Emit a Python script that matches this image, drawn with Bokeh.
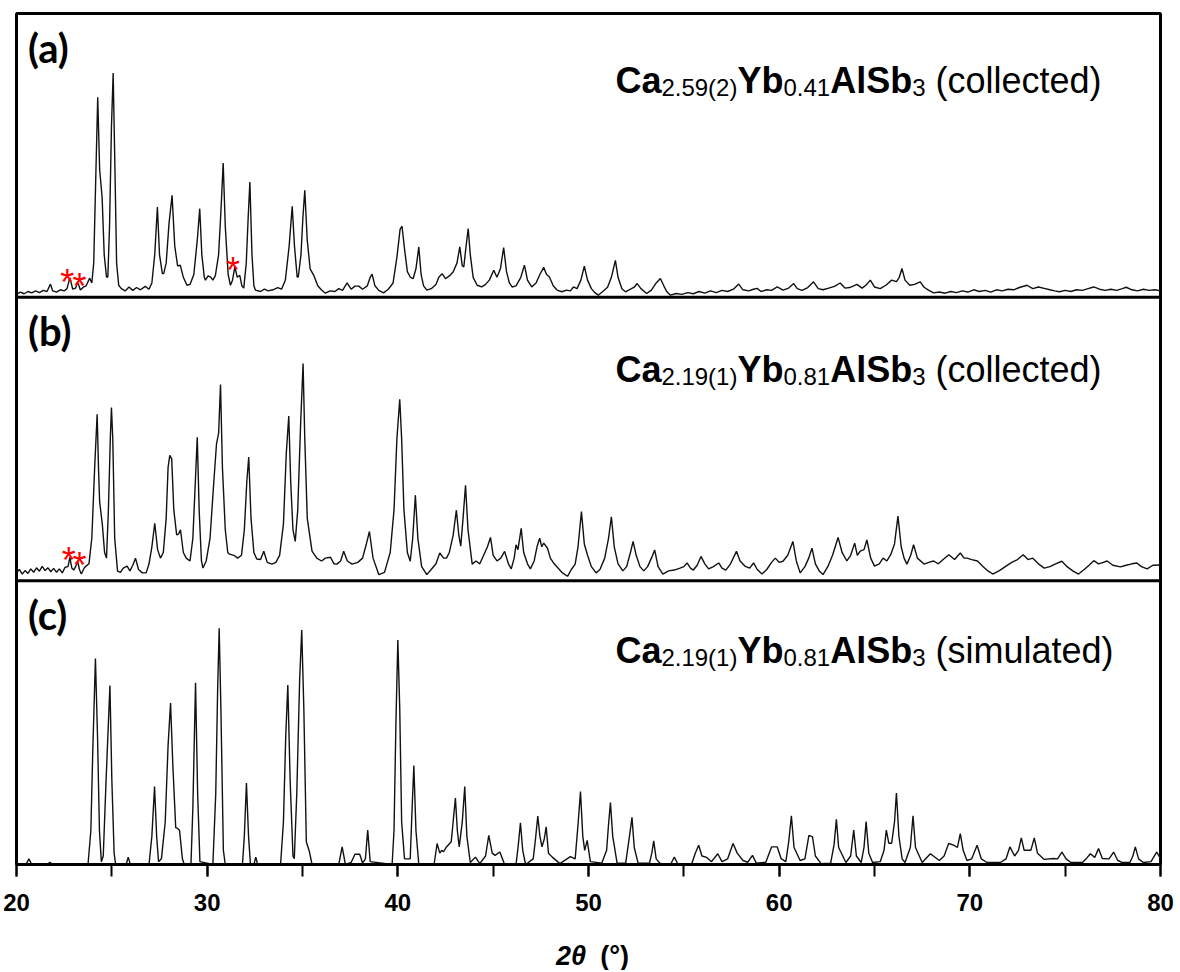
from bokeh.plotting import figure
from bokeh.models import Span, SingleIntervalTicker, Range1d
from bokeh.layouts import column
from bokeh.core.properties import value
from bokeh.embed import file_html
from bokeh.resources import INLINE

# ---------------- data (2-theta in degrees, intensity in % of panel height) ----------------
PATTERN_A = [
    (20.0, 1.0), (20.2, 1.8), (20.4, 1.2), (20.6, 2.0), (20.8, 1.5), (21.0, 2.2), (21.2, 1.6), (21.4, 2.4),
    (21.6, 2.0), (21.78, 4.6), (21.9, 2.2), (22.1, 1.8), (22.3, 2.6), (22.5, 2.2), (22.65, 3.0), (22.8, 6.9),
    (22.95, 2.8), (23.1, 3.2), (23.21, 5.4), (23.35, 2.5), (23.5, 3.5), (23.65, 4.0), (23.84, 6.7), (23.95, 5.0),
    (24.05, 12), (24.15, 40), (24.26, 70.5), (24.36, 45), (24.49, 35.3), (24.6, 15), (24.72, 7.1), (24.79, 7.1),
    (24.88, 25), (24.98, 60), (25.07, 79.0), (25.15, 50), (25.25, 12), (25.36, 4.2), (25.5, 3.0), (25.7, 2.2),
    (25.9, 3.6), (26.1, 2.4), (26.3, 3.4), (26.5, 2.6), (26.75, 3.8), (26.95, 2.8), (27.1, 5), (27.25, 15),
    (27.39, 31.8), (27.5, 15), (27.65, 8.3), (27.72, 8.3), (27.85, 12), (28.0, 26), (28.16, 35.9), (28.3, 18),
    (28.45, 11), (28.59, 11.3), (28.75, 7), (28.94, 4.2), (29.1, 4.5), (29.3, 8), (29.48, 20), (29.61, 31.2),
    (29.72, 15), (29.85, 7), (29.91, 6.0), (30.05, 7.5), (30.19, 7.1), (30.3, 6.0), (30.43, 7.6), (30.6, 15),
    (30.72, 30), (30.84, 47.3), (30.95, 25), (31.1, 8), (31.22, 4.2), (31.33, 6), (31.45, 10.7), (31.58, 7),
    (31.71, 7.7), (31.82, 4), (31.92, 3.2), (32.05, 12), (32.15, 28), (32.24, 40.6), (32.35, 15), (32.45, 4),
    (32.53, 2.5), (32.8, 2.0), (33.0, 2.8), (33.2, 2.2), (33.45, 2.6), (33.7, 3.4), (33.9, 2.8), (34.1, 6),
    (34.3, 18), (34.46, 32.0), (34.58, 18), (34.72, 7.1), (34.78, 7.1), (34.92, 15), (35.02, 28), (35.12, 37.7),
    (35.25, 20), (35.4, 10), (35.59, 7.7), (35.8, 4), (36.0, 2.5), (36.2, 1.4), (36.45, 2.2), (36.7, 2.0),
    (36.9, 3.0), (37.1, 2.4), (37.34, 5.0), (37.55, 2.8), (37.75, 3.9), (37.95, 3.9), (38.15, 2.8), (38.4, 4),
    (38.55, 7), (38.65, 8.1), (38.8, 4), (39.0, 2.4), (39.25, 1.5), (39.5, 2.8), (39.75, 5), (39.95, 14),
    (40.12, 24), (40.22, 25.0), (40.35, 17), (40.5, 9), (40.65, 7.1), (40.8, 6.5), (40.95, 10), (41.1, 17.7),
    (41.22, 8), (41.35, 4), (41.52, 2.5), (41.75, 3), (42.0, 4.5), (42.15, 7), (42.32, 8.3), (42.5, 6.5),
    (42.7, 7.5), (42.9, 8.9), (43.1, 12), (43.25, 17.7), (43.38, 11), (43.46, 10.7), (43.58, 18), (43.69, 24.2),
    (43.8, 15), (43.95, 7), (44.16, 4.2), (44.4, 3.6), (44.6, 4.5), (44.8, 6), (45.03, 9.5), (45.2, 7),
    (45.38, 10), (45.55, 17.5), (45.7, 9), (45.85, 5), (45.99, 3.6), (46.2, 4), (46.45, 7), (46.64, 11.3),
    (46.8, 6), (47.02, 3.6), (47.25, 5), (47.45, 8), (47.65, 10.5), (47.8, 8), (47.95, 7.1), (48.15, 4),
    (48.35, 2.5), (48.6, 1.9), (48.85, 2.5), (49.05, 2.2), (49.21, 3.6), (49.4, 3), (49.6, 6), (49.78, 10.9),
    (49.95, 6), (50.15, 3), (50.35, 1.5), (50.51, 0.7), (50.75, 2), (51.0, 3.5), (51.2, 7), (51.41, 13.0),
    (51.55, 7), (51.75, 3), (51.94, 1.9), (52.2, 2.8), (52.4, 3.5), (52.55, 4.8), (52.75, 3), (53.05, 1.3),
    (53.3, 2.5), (53.55, 5), (53.77, 6.6), (53.95, 4), (54.1, 2), (54.3, 0.7), (54.6, 1.3), (54.9, 1.0),
    (55.2, 1.6), (55.5, 1.2), (55.8, 2.0), (56.1, 1.4), (56.4, 2.2), (56.7, 1.6), (57.0, 2.4), (57.3, 2.0),
    (57.6, 2.8), (57.88, 4.6), (58.1, 2.6), (58.4, 2.2), (58.65, 2.8), (58.84, 3.1), (59.05, 2.0), (59.35, 2.6),
    (59.6, 2.4), (59.9, 3.6), (60.2, 2.5), (60.5, 3.2), (60.76, 4.8), (60.95, 3.0), (61.2, 2.4), (61.5, 3.4),
    (61.8, 5.4), (62.05, 3), (62.3, 2.6), (62.6, 3.2), (62.9, 3.8), (63.2, 5.0), (63.45, 3.2), (63.7, 3.4),
    (64.08, 4.5), (64.35, 3.2), (64.55, 4.2), (64.78, 6.0), (65.0, 3.6), (65.3, 3.0), (65.6, 4.2), (65.9, 6.0),
    (66.15, 5.5), (66.3, 7), (66.44, 10.1), (66.6, 6), (66.85, 4.2), (67.1, 4.5), (67.4, 5.4), (67.6, 3.5),
    (67.85, 2.4), (68.1, 1.5), (68.4, 1.8), (68.7, 1.4), (69.0, 2.0), (69.3, 1.6), (69.6, 2.2), (69.9, 1.8),
    (70.2, 2.6), (70.5, 2.0), (70.8, 2.4), (71.1, 1.8), (71.4, 2.6), (71.7, 2.2), (72.0, 2.8), (72.3, 2.6),
    (72.6, 3.4), (73.0, 4.2), (73.3, 3.0), (73.6, 3.6), (73.9, 3.1), (74.2, 2.6), (74.45, 2.2), (74.7, 1.9),
    (75.0, 2.4), (75.3, 2.0), (75.6, 2.6), (75.9, 2.4), (76.2, 3.0), (76.5, 3.6), (76.8, 2.8), (77.1, 2.4),
    (77.4, 2.8), (77.7, 2.4), (78.0, 3.0), (78.2, 3.5), (78.5, 2.6), (78.8, 2.2), (79.1, 2.8), (79.4, 2.4),
    (79.7, 2.6), (80.0, 2.2),
]

PATTERN_B = [
    (20.0, 2.8), (20.15, 4.0), (20.3, 2.4), (20.45, 3.6), (20.6, 2.6), (20.75, 4.2), (20.9, 3.0), (21.05, 4.6),
    (21.2, 3.4), (21.35, 5.1), (21.5, 3.6), (21.65, 4.6), (21.8, 3.2), (21.95, 4.4), (22.1, 3.0), (22.25, 4.2),
    (22.4, 2.8), (22.55, 4.8), (22.7, 5.0), (22.8, 8.3), (22.9, 4.5), (23.0, 3.8), (23.1, 5.0), (23.21, 6.9),
    (23.3, 4), (23.4, 2.4), (23.55, 4.5), (23.65, 5.2), (23.8, 6), (23.95, 15), (24.1, 40), (24.23, 58.7),
    (24.3, 40), (24.36, 27.9), (24.5, 20), (24.62, 10), (24.72, 8.0), (24.82, 25), (24.92, 50), (24.98, 61.1),
    (25.05, 50), (25.15, 15), (25.3, 3.4), (25.45, 3.0), (25.6, 4.5), (25.8, 5.2), (25.95, 3.5), (26.1, 5.5),
    (26.24, 8.0), (26.4, 4.0), (26.6, 2.8), (26.8, 2.8), (26.95, 6), (27.1, 12), (27.25, 20.3), (27.4, 11),
    (27.55, 8.0), (27.7, 10), (27.85, 22), (27.95, 40), (28.04, 44.2), (28.14, 43), (28.25, 25), (28.4, 16.2),
    (28.5, 16.5), (28.6, 18.0), (28.75, 10), (28.9, 8.0), (29.1, 7), (29.25, 15), (29.38, 35), (29.48, 50.6),
    (29.58, 25), (29.7, 7), (29.78, 4.5), (29.95, 7), (30.15, 15), (30.35, 35), (30.49, 48.3), (30.6, 52),
    (30.7, 69.2), (30.8, 40), (30.95, 18), (31.08, 10), (31.17, 9.4), (31.4, 9), (31.6, 8.0), (31.8, 9),
    (31.95, 18), (32.08, 35), (32.18, 43.6), (32.3, 22), (32.45, 10), (32.6, 7.7), (32.8, 7.5), (32.97, 10.4),
    (33.15, 6.5), (33.4, 5.9), (33.6, 6.5), (33.8, 9), (34.0, 20), (34.15, 45), (34.28, 58.1), (34.38, 35),
    (34.5, 18), (34.62, 13.9), (34.75, 25), (34.9, 55), (35.03, 76.6), (35.12, 50), (35.25, 22), (35.5, 10.5),
    (35.75, 8), (36.0, 7.0), (36.2, 8), (36.47, 8.3), (36.65, 6), (36.8, 5.9), (37.0, 7), (37.16, 10.4),
    (37.35, 7), (37.6, 5.9), (37.9, 6.5), (38.15, 8), (38.35, 13), (38.51, 17.4), (38.7, 8), (39.0, 2.2),
    (39.3, 3), (39.6, 10), (39.8, 25), (39.95, 50), (40.1, 64.0), (40.2, 50), (40.32, 25), (40.5, 10),
    (40.65, 6.9), (40.78, 15), (40.92, 30.2), (41.05, 15), (41.25, 5), (41.52, 2.2), (41.75, 4), (42.0, 6),
    (42.2, 9.8), (42.4, 8), (42.55, 8.0), (42.7, 10), (42.9, 16), (43.07, 24.9), (43.2, 16), (43.3, 12.2),
    (43.42, 22), (43.55, 33.7), (43.68, 18), (43.9, 5.9), (44.1, 7.0), (44.3, 6), (44.5, 9), (44.7, 12),
    (44.86, 15.3), (45.0, 9), (45.2, 7.0), (45.4, 8), (45.6, 10.4), (45.8, 6), (45.95, 4.2), (46.1, 8),
    (46.2, 12.7), (46.3, 11), (46.47, 18.5), (46.6, 10), (46.8, 6), (46.95, 4.2), (47.15, 7), (47.3, 12),
    (47.44, 15.0), (47.55, 12), (47.65, 13.3), (47.85, 11.5), (48.0, 8), (48.2, 6), (48.4, 4.5), (48.6, 3),
    (48.9, 1.6), (49.1, 4), (49.3, 5.9), (49.45, 12), (49.63, 24.4), (49.78, 13), (49.95, 9), (50.15, 5),
    (50.4, 2.8), (50.6, 4), (50.85, 8), (51.05, 15), (51.2, 22.6), (51.35, 12), (51.55, 6), (51.8, 3.5),
    (52.0, 5), (52.2, 10), (52.34, 13.9), (52.5, 9), (52.7, 5), (52.9, 3.5), (53.1, 5), (53.3, 8),
    (53.47, 10.9), (53.65, 5), (53.9, 2.4), (54.2, 3.5), (54.5, 3.8), (54.8, 4.5), (55.0, 5), (55.17, 6.3),
    (55.35, 4.5), (55.5, 3.8), (55.7, 5.5), (55.9, 8.6), (56.1, 6), (56.3, 4.2), (56.55, 5), (56.83, 6.3),
    (57.0, 4.5), (57.2, 3.8), (57.45, 6), (57.76, 10.4), (57.95, 7), (58.2, 5.2), (58.45, 4.5), (58.66, 6.3),
    (58.85, 4), (59.1, 2.4), (59.35, 4), (59.6, 6.5), (59.8, 8.0), (60.0, 6.5), (60.2, 6.9), (60.45, 9),
    (60.72, 13.9), (60.9, 7), (61.1, 2.8), (61.35, 5), (61.55, 8), (61.72, 11.5), (61.9, 6), (62.1, 3.5),
    (62.3, 2.2), (62.55, 5), (62.8, 9), (63.09, 15.3), (63.3, 10), (63.55, 7.0), (63.75, 9), (63.96, 13.3),
    (64.1, 9), (64.25, 10.5), (64.45, 11), (64.6, 14.4), (64.8, 8), (65.0, 5.2), (65.25, 6), (65.45, 8.0),
    (65.65, 7), (65.85, 9.2), (66.05, 13), (66.23, 22.8), (66.4, 12), (66.55, 8), (66.7, 5.9), (66.9, 9),
    (67.05, 12.7), (67.25, 8), (67.6, 5.9), (67.85, 6.5), (68.1, 7.0), (68.35, 6), (68.6, 7.5), (68.9, 9.2),
    (69.2, 7.5), (69.5, 9.8), (69.7, 8), (69.85, 8.0), (70.1, 7.5), (70.4, 7.0), (70.7, 5), (70.95, 3.5),
    (71.2, 2.4), (71.55, 3.6), (71.9, 5.2), (72.2, 6.5), (72.5, 7.5), (72.8, 9.2), (73.05, 7.5), (73.3, 8.0),
    (73.6, 6), (73.9, 4.5), (74.2, 5), (74.5, 6), (74.83, 6.9), (75.1, 5), (75.4, 3.5), (75.7, 2.4),
    (76.0, 4), (76.25, 5.5), (76.5, 7.1), (76.75, 6), (77.0, 6.5), (77.2, 7.0), (77.5, 5.5), (77.9, 4.9),
    (78.2, 5.5), (78.5, 6), (78.76, 6.3), (79.0, 5), (79.3, 4.2), (79.6, 5.5), (80.0, 5.6),
]

PATTERN_C = [
    (20.0, 0), (20.5, 0), (20.65, 2.0), (20.8, 0), (21.6, 0), (21.75, 0.8), (21.9, 0), (23.75, 0),
    (23.9, 12), (24.0, 40), (24.14, 72.6), (24.25, 45), (24.35, 12), (24.45, 1), (24.55, 3), (24.7, 30),
    (24.9, 63.1), (25.0, 30), (25.12, 4), (25.2, 0), (25.75, 0), (25.86, 2.6), (25.97, 0), (26.95, 0),
    (27.1, 10), (27.24, 27.5), (27.35, 10), (27.45, 1), (27.6, 2), (27.8, 15), (27.95, 42), (28.08, 56.9),
    (28.2, 35), (28.35, 13), (28.45, 12.7), (28.55, 12.1), (28.7, 2), (28.8, 0), (29.15, 0), (29.25, 20),
    (29.39, 64.1), (29.5, 25), (29.62, 1), (30.3, 0), (30.45, 25), (30.55, 62), (30.63, 83.3), (30.72, 55),
    (30.85, 5), (30.95, 0), (31.85, 0), (31.95, 10), (32.06, 28.7), (32.17, 10), (32.27, 0), (32.45, 0),
    (32.55, 2.6), (32.65, 0), (33.85, 0), (34.0, 15), (34.12, 45), (34.23, 63.3), (34.35, 30), (34.5, 3),
    (34.57, 2), (34.7, 25), (34.85, 65), (34.96, 82.7), (35.07, 55), (35.2, 8), (35.36, 4.6), (35.5, 0),
    (36.9, 0), (37.08, 6.2), (37.25, 0), (37.55, 0.7), (37.75, 3.6), (38.0, 3.6), (38.15, 0.5), (38.3, 2),
    (38.42, 12.1), (38.55, 1), (39.7, 0), (39.8, 12), (39.9, 50), (40.0, 79.1), (40.1, 55), (40.2, 15),
    (40.35, 2), (40.65, 2), (40.75, 20), (40.84, 34.9), (40.95, 12), (41.1, 0), (41.9, 0), (42.06, 7.4),
    (42.2, 4), (42.3, 5), (42.4, 4.5), (42.55, 6.2), (42.8, 8), (42.9, 15), (43.02, 23.4), (43.12, 12),
    (43.22, 6.2), (43.38, 15), (43.51, 27.5), (43.62, 10), (43.8, 0.7), (44.07, 2.6), (44.3, 0.3), (44.6, 3),
    (44.77, 10.3), (44.95, 4), (45.1, 3.2), (45.35, 4.4), (45.6, 0), (46.2, 0), (46.32, 7), (46.43, 14.7),
    (46.55, 5), (46.7, 0), (47.1, 2), (47.22, 9), (47.34, 17.1), (47.45, 10), (47.56, 6.2), (47.68, 9),
    (47.78, 13.3), (47.9, 4), (48.1, 2.6), (48.5, 0.3), (49.05, 2.8), (49.3, 2), (49.45, 14), (49.58, 25.7),
    (49.7, 10), (49.8, 5.0), (49.93, 8.5), (50.1, 1), (50.7, 0.5), (50.95, 5), (51.05, 14), (51.15, 21.8),
    (51.27, 10), (51.5, 0.5), (51.95, 0.5), (52.15, 10), (52.28, 16.6), (52.4, 6), (52.6, 0.5), (53.2, 0.5),
    (53.32, 4), (53.42, 8.3), (53.55, 2), (53.8, 0), (54.3, 0), (54.5, 2.6), (54.7, 0), (55.4, 0),
    (55.6, 4), (55.78, 6.8), (55.95, 3), (56.2, 2.5), (56.45, 1), (56.78, 3.8), (57.0, 1), (57.3, 2),
    (57.58, 7.4), (57.8, 4), (58.1, 1.4), (58.35, 0.8), (58.6, 3.2), (58.8, 0.5), (59.3, 0.8), (59.6, 6.2),
    (59.9, 6.2), (60.1, 2.1), (60.35, 1), (60.5, 8), (60.64, 17.2), (60.78, 6), (61.1, 1.4), (61.35, 2),
    (61.56, 10.3), (61.75, 9.7), (61.9, 3), (62.2, 0.3), (62.7, 0.5), (62.88, 7), (63.0, 15.9), (63.12, 6),
    (63.5, 0.7), (63.75, 3), (63.91, 12.1), (64.05, 3), (64.3, 0.7), (64.45, 6), (64.56, 15.1), (64.7, 4),
    (64.9, 0.7), (65.3, 1), (65.5, 5), (65.62, 12.1), (65.75, 7.5), (65.9, 7.5), (66.05, 15), (66.15, 25.2),
    (66.28, 10), (66.45, 2), (66.6, 0.7), (66.88, 6), (67.02, 17.2), (67.15, 6), (67.5, 0.7), (67.93, 3.8),
    (68.4, 1.4), (68.65, 3), (68.89, 7.4), (69.15, 6.8), (69.35, 6), (69.5, 10.9), (69.65, 5), (69.85, 1.4),
    (70.1, 2), (70.38, 6.8), (70.6, 2), (70.9, 0.7), (71.6, 0.7), (71.9, 2), (72.1, 6.2), (72.35, 3),
    (72.55, 5), (72.7, 9.4), (72.85, 5), (73.0, 5), (73.2, 5), (73.38, 9.4), (73.55, 4), (73.9, 1.8),
    (74.4, 2.1), (74.6, 2), (74.83, 4.4), (75.05, 2), (75.3, 0.7), (75.9, 0.7), (76.1, 2), (76.32, 3.8),
    (76.55, 2.5), (76.75, 5.6), (76.95, 2.1), (77.3, 2), (77.54, 4.4), (77.75, 1.5), (78.0, 0.7), (78.4, 0.8),
    (78.55, 3), (78.68, 6.2), (78.85, 2), (79.1, 0.7), (79.5, 1), (79.8, 4.4), (80.0, 2.1),
]

# impurity markers (red asterisks)
STARS_A_X = [22.66, 23.30, 31.36]
STARS_A_Y = [8.9, 7.7, 13.3]
STARS_B_X = [22.74, 23.30]
STARS_B_Y = [10.9, 9.2]

PANEL_LABELS = ["(a)", "(b)", "(c)"]
FORMULAS = [
    [("Ca", "m"), ("2.59(2)", "s"), ("Yb", "m"), ("0.41", "s"), ("AlSb", "m"), ("3", "s"), ("(collected)", "n")],
    [("Ca", "m"), ("2.19(1)", "s"), ("Yb", "m"), ("0.81", "s"), ("AlSb", "m"), ("3", "s"), ("(collected)", "n")],
    [("Ca", "m"), ("2.19(1)", "s"), ("Yb", "m"), ("0.81", "s"), ("AlSb", "m"), ("3", "s"), ("(simulated)", "n")],
]
AXIS_TITLE = ["2θ", "(°)"]

# ---------------- layout helpers ----------------
REG = {'0': 556, '1': 556, '2': 556, '3': 556, '4': 556, '5': 556, '6': 556, '7': 556, '8': 556, '9': 556,
       '.': 278, '(': 333, ')': 333, ' ': 278, 'c': 500, 'o': 556, 'l': 222, 'e': 556, 't': 278, 'd': 556,
       's': 500, 'i': 222, 'm': 833, 'u': 556, 'a': 556}
BOLD = {'C': 722, 'a': 556, 'Y': 667, 'b': 611, 'A': 722, 'l': 278, 'S': 667}
MAIN_SIZE, SUB_SIZE = 36, 24
GAP = 0.278 * MAIN_SIZE


def seg_width(s, kind):
    if kind == "m":
        return sum(BOLD[c] for c in s) * MAIN_SIZE / 1000.0
    if kind == "s":
        return sum(REG[c] for c in s) * SUB_SIZE / 1000.0
    return sum(REG[c] for c in s) * MAIN_SIZE / 1000.0


FONT = value("Liberation Sans")

p = figure(frame_width=1144, frame_height=851, min_border_left=16, min_border_right=20,
           min_border_top=13, min_border_bottom=60, x_range=Range1d(20, 80), y_range=Range1d(0, 3),
           output_backend="svg", toolbar_location=None, y_axis_location=None)
p.xgrid.visible = False
p.ygrid.visible = False
p.outline_line_color = "black"
p.outline_line_width = 3
p.background_fill_color = "white"
p.border_fill_color = "white"

ax = p.xaxis[0]
ax.ticker = SingleIntervalTicker(interval=10, num_minor_ticks=2)
ax.axis_line_width = 3
ax.axis_line_color = "black"
ax.major_tick_in = 0
ax.major_tick_out = 12
ax.minor_tick_in = 0
ax.minor_tick_out = 12
ax.major_tick_line_width = 2
ax.minor_tick_line_width = 2
ax.major_label_text_font = "Liberation Sans"
ax.major_label_text_font_style = "bold"
ax.major_label_text_font_size = "24px"
ax.major_label_text_color = "black"
ax.major_label_standoff = 17

patterns = [PATTERN_A, PATTERN_B, PATTERN_C]
offsets = [2, 1, 0]
for pat, off in zip(patterns, offsets):
    xs = [pt[0] for pt in pat]
    ys = [off + pt[1] / 100.0 for pt in pat]
    p.line(xs, ys, line_color="#111111", line_width=1.4)

for loc in (1, 2):
    p.add_layout(Span(location=loc, dimension="width", line_color="black", line_width=3))

# red asterisks
for sx, sy, off in ((STARS_A_X, STARS_A_Y, 2), (STARS_B_X, STARS_B_Y, 1)):
    p.text(x=sx, y=[off + v / 100.0 for v in sy], text=["*"] * len(sx), text_color="#ff0000",
           text_font=FONT, text_font_size="36px", text_align="center", text_baseline="middle", y_offset=11)

# panel labels
LABEL_X, LABEL_Y = 20.6, 88.0
for lab, off in zip(PANEL_LABELS, offsets):
    p.text(x=[LABEL_X], y=[off + LABEL_Y / 100.0], text=[lab], text_font=value("Lato"),
           text_font_style="bold", text_font_size="40px", text_align="left", text_baseline="middle",
           text_color="black")

# formula labels
FORMULA_X = 51.41
FORMULA_Y = [76.4, 74.5, 75.4]
for segs, off, fy in zip(FORMULAS, offsets, FORMULA_Y):
    cum = 0.0
    for s, kind in segs:
        if kind == "n":
            cum += GAP
        p.text(x=[FORMULA_X], y=[off + fy / 100.0], text=[s], x_offset=cum,
               y_offset=(7 if kind == "s" else 0), text_font=FONT,
               text_font_style=("bold" if kind == "m" else "normal"),
               text_font_size=("%dpx" % (SUB_SIZE if kind == "s" else MAIN_SIZE)),
               text_align="left", text_baseline="alphabetic", text_color="black")
        cum += seg_width(s, kind)

# x-axis title "2θ (°)" in a thin strip below the main figure
t = figure(frame_width=1144, frame_height=46, min_border_left=16, min_border_right=20,
           min_border_top=0, min_border_bottom=0, x_range=p.x_range, y_range=Range1d(0, 1),
           x_axis_location=None, y_axis_location=None, output_backend="svg", toolbar_location=None)
t.outline_line_color = None
t.xgrid.visible = False
t.ygrid.visible = False
t.text(x=[48.3], y=[0.32], text=[AXIS_TITLE[0]], text_font=FONT, text_font_style="bold italic",
       text_font_size="27px", text_align="left", text_baseline="middle", text_color="black")
t.text(x=[50.62], y=[0.32], text=[AXIS_TITLE[1]], text_font=FONT, text_font_style="bold",
       text_font_size="27px", text_align="left", text_baseline="middle", text_color="black")

layout = column(p, t, spacing=0)
open("out.html", "w").write(file_html(layout, INLINE))
